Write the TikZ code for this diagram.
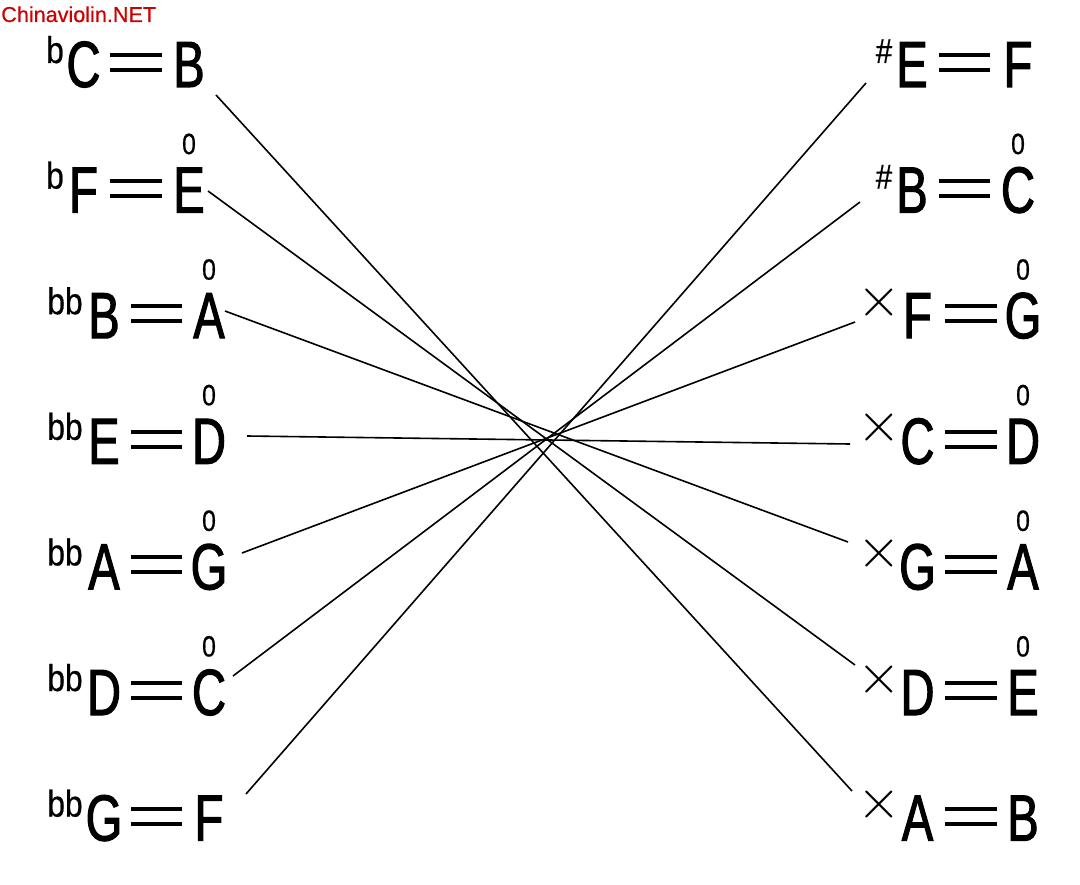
\documentclass[tikz,border=0pt]{standalone}
\usepackage{fontspec}
\newfontfamily\lab[FakeStretch=0.72,FakeBold=1.6]{Liberation Sans}
\newfontfamily\labs[FakeStretch=0.85,FakeBold=0.6]{Liberation Sans}
\newfontfamily\plainsans[FakeBold=0.5]{Liberation Sans}
\definecolor{wm}{RGB}{204,0,0}
\begin{document}
\begin{tikzpicture}[x=0.75pt,y=-0.75pt,
  big/.style={font=\lab\fontsize{49}{50}\selectfont,inner sep=0pt,anchor=base},
  accb/.style={font=\labs\fontsize{28}{30}\selectfont,inner sep=0pt,anchor=base},
  sharp/.style={font=\labs\fontsize{26}{28}\selectfont,inner sep=0pt,anchor=base},
  dsharp/.style={font=\normalsize,inner sep=0pt,anchor=center,scale=4.2},
  zero/.style={font=\labs\fontsize{22}{23}\selectfont,inner sep=0pt,anchor=south},
  eqbar/.style={line width=3pt},
  link/.style={line width=1.2pt}]
\useasboundingbox (0,0) rectangle (1080,884);

% watermark
\node[font=\plainsans\fontsize{16.2}{17}\selectfont,text=wm,anchor=base west,inner sep=0pt] (wm) at (1,22) {Chinaviolin.NET};

% left column
\foreach \i/\acc/\ax/\la/\xa/\ea/\eb/\lb/\xb in {
  1/b/55/C/83.5/110/162/B/189,
  2/b/55/F/83.5/110/162/E/189,
  3/bb/65/B/104/131/182/A/209,
  4/bb/65/E/104/131/182/D/209,
  5/bb/65/A/104/131/182/G/209,
  6/bb/65/D/104/131/182/C/209,
  7/bb/65/G/104/131/182/F/209}{
  \pgfmathsetmacro\by{87+125.6*(\i-1)}
  \node[accb] (La\i) at (\ax,\by-24) {\acc};
  \node[big] (Lx\i) at (\xa,\by) {\la};
  \node[big] (Ly\i) at (\xb,\by) {\lb};
  \draw[eqbar] (\ea,\by-32) -- (\eb,\by-32) (\ea,\by-17) -- (\eb,\by-17);
}
\foreach \i/\x in {2/189,3/209,4/209,5/209,6/209}{
  \pgfmathsetmacro\by{87+125.6*(\i-1)}
  \node[zero] (Lz\i) at (\x,\by-58) {0};
}

% right column
\foreach \i/\la/\xa/\ea/\eb/\lb/\xb in {
  1/E/912/939/990/F/1018,
  2/B/912/939/990/C/1018,
  3/F/917.5/945/997/G/1023,
  4/C/917.5/945/997/D/1023,
  5/G/917.5/945/997/A/1023,
  6/D/917.5/945/997/E/1023,
  7/A/917.5/945/997/B/1023}{
  \pgfmathsetmacro\by{87+125.6*(\i-1)}
  \node[big] (Rx\i) at (\xa,\by) {\la};
  \node[big] (Ry\i) at (\xb,\by) {\lb};
  \draw[eqbar] (\ea,\by-32) -- (\eb,\by-32) (\ea,\by-17) -- (\eb,\by-17);
}
\foreach \i in {1,2}{
  \pgfmathsetmacro\by{87+125.6*(\i-1)}
  \node[sharp] (Ra\i) at (884,\by-24) {\#};
}
\foreach \i in {3,...,7}{
  \pgfmathsetmacro\by{87+125.6*(\i-1)}
  \node[dsharp] (Ra\i) at (879.5,\by-36) {$\times$};
}
\foreach \i/\x in {2/1018,3/1023,4/1023,5/1023,6/1023}{
  \pgfmathsetmacro\by{87+125.6*(\i-1)}
  \node[zero] (Rz\i) at (\x,\by-58) {0};
}

% connectors
\coordinate (s1) at (216,95);  \coordinate (e1) at (852,791);
\coordinate (s2) at (208,191); \coordinate (e2) at (855,665);
\coordinate (s3) at (225,311); \coordinate (e3) at (848,542);
\coordinate (s4) at (247,436); \coordinate (e4) at (850,444);
\coordinate (s5) at (242,553); \coordinate (e5) at (855,322);
\coordinate (s6) at (233,676); \coordinate (e6) at (860,202);
\coordinate (s7) at (246,794); \coordinate (e7) at (866,83);
\foreach \i in {1,...,7}{
  \draw[link] (s\i) -- (e\i);
}
\end{tikzpicture}
\end{document}
